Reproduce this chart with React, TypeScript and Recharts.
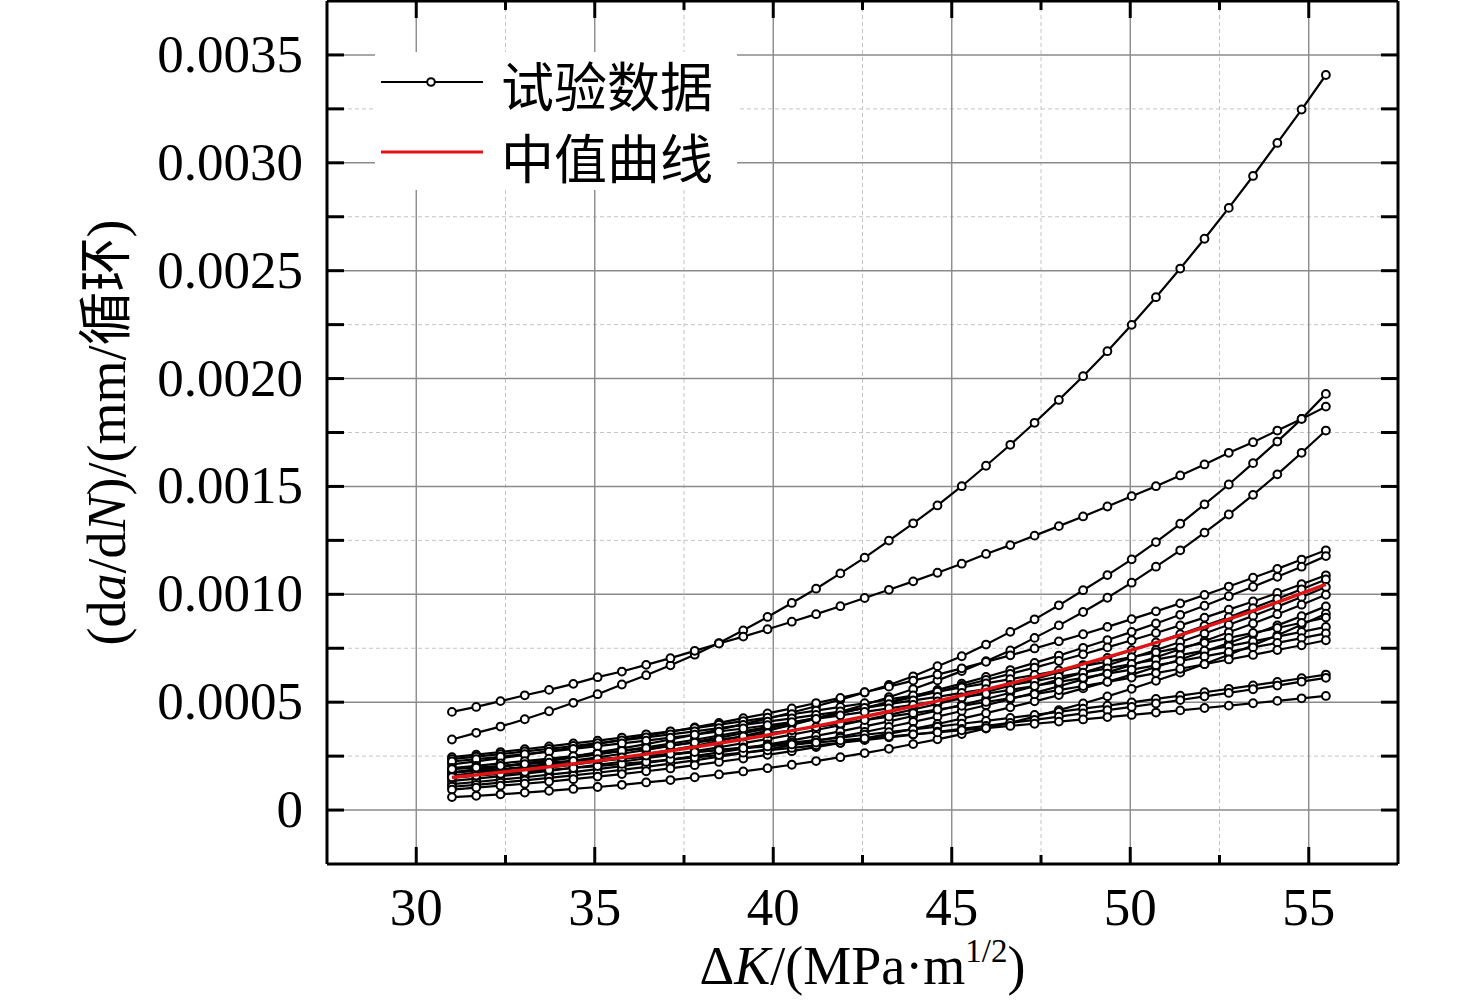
import React from 'react';
import { CartesianGrid, Legend, Line, LineChart, XAxis, YAxis } from 'recharts';

// Times-like serif for numbers, CJK falls back to Noto Sans CJK.
const SERIF = '"Liberation Serif", "Times New Roman", "Noto Sans CJK SC", serif';
const CJK = '"Noto Sans CJK SC", "Noto Sans CJK JP", sans-serif';
const RED = '#e01414';
const GRID_MAJOR = '#8a8a8a';
const GRID_MINOR = '#c4c4c4';

// ΔK at each measured point (MPa·m^1/2)
const DK = [
  31.0, 31.68, 32.36, 33.04, 33.72, 34.4, 35.08, 35.76, 36.44, 37.12, 37.8, 38.48, 39.16,
  39.84, 40.52, 41.2, 41.88, 42.56, 43.24, 43.92, 44.6, 45.28, 45.96, 46.64, 47.32, 48.0,
  48.68, 49.36, 50.04, 50.72, 51.4, 52.08, 52.76, 53.44, 54.12, 54.8, 55.48,
];

// da/dN per specimen, in 1e-4 mm/cycle
const S01 = [3.27, 3.58, 3.87, 4.21, 4.58, 4.97, 5.37, 5.82, 6.25, 6.71, 7.2, 7.74, 8.33, 8.95, 9.6, 10.26, 10.97, 11.7, 12.49, 13.29, 14.12, 15.01, 15.96, 16.93, 17.95, 19.01, 20.11, 21.27, 22.49, 23.77, 25.1, 26.48, 27.91, 29.39, 30.92, 32.47, 34.07];
const S02 = [4.55, 4.78, 5.05, 5.32, 5.57, 5.85, 6.16, 6.42, 6.73, 7.04, 7.38, 7.72, 8.04, 8.38, 8.73, 9.08, 9.45, 9.83, 10.21, 10.6, 11.0, 11.42, 11.87, 12.28, 12.72, 13.16, 13.61, 14.07, 14.55, 15.01, 15.51, 16.02, 16.56, 17.05, 17.59, 18.13, 18.7];
const S03 = [1.74, 1.87, 2.01, 2.16, 2.32, 2.49, 2.67, 2.86, 3.06, 3.27, 3.49, 3.73, 3.98, 4.24, 4.52, 4.81, 5.12, 5.45, 5.8, 6.2, 6.67, 7.13, 7.67, 8.26, 8.84, 9.49, 10.19, 10.89, 11.62, 12.42, 13.27, 14.17, 15.09, 16.08, 17.08, 18.13, 19.29];
const S04 = [1.5, 1.61, 1.72, 1.84, 1.97, 2.11, 2.26, 2.42, 2.59, 2.78, 2.98, 3.2, 3.43, 3.68, 3.95, 4.24, 4.55, 4.88, 5.23, 5.61, 6.01, 6.44, 6.9, 7.4, 7.98, 8.56, 9.18, 9.84, 10.54, 11.28, 12.04, 12.86, 13.7, 14.61, 15.56, 16.56, 17.59];
const S05 = [2.12, 2.26, 2.41, 2.56, 2.73, 2.89, 3.07, 3.25, 3.44, 3.63, 3.83, 4.04, 4.26, 4.48, 4.71, 4.96, 5.2, 5.46, 5.72, 6.0, 6.28, 6.57, 6.87, 7.17, 7.49, 7.82, 8.15, 8.49, 8.85, 9.21, 9.58, 9.97, 10.36, 10.77, 11.18, 11.61, 12.04];
const S06 = [1.6, 1.72, 1.85, 1.99, 2.14, 2.29, 2.44, 2.61, 2.79, 2.97, 3.16, 3.36, 3.56, 3.78, 4.01, 4.24, 4.49, 4.74, 5.01, 5.28, 5.57, 5.86, 6.17, 6.49, 6.82, 7.16, 7.52, 7.88, 8.26, 8.65, 9.05, 9.47, 9.91, 10.35, 10.81, 11.28, 11.77];
const S07 = [1.75, 1.87, 2.0, 2.14, 2.28, 2.43, 2.58, 2.74, 2.91, 3.08, 3.26, 3.45, 3.65, 3.85, 4.06, 4.28, 4.5, 4.73, 4.98, 5.23, 5.48, 5.75, 6.03, 6.31, 6.6, 6.91, 7.22, 7.54, 7.87, 8.21, 8.56, 8.92, 9.29, 9.67, 10.06, 10.47, 10.88];
const S08 = [1.35, 1.46, 1.57, 1.69, 1.82, 1.96, 2.1, 2.24, 2.4, 2.56, 2.73, 2.91, 3.1, 3.29, 3.5, 3.71, 3.93, 4.17, 4.41, 4.66, 4.92, 5.19, 5.47, 5.77, 6.07, 6.39, 6.72, 7.05, 7.41, 7.77, 8.15, 8.54, 8.94, 9.36, 9.79, 10.23, 10.69];
const S09 = [1.2, 1.3, 1.41, 1.52, 1.64, 1.76, 1.9, 2.04, 2.18, 2.34, 2.5, 2.67, 2.85, 3.04, 3.23, 3.44, 3.65, 3.88, 4.11, 4.36, 4.61, 4.88, 5.15, 5.44, 5.74, 6.05, 6.37, 6.71, 7.06, 7.42, 7.79, 8.18, 8.59, 9.0, 9.43, 9.88, 10.34];
const S10 = [1.08, 1.17, 1.27, 1.38, 1.49, 1.61, 1.73, 1.86, 2.0, 2.15, 2.3, 2.47, 2.64, 2.82, 3.0, 3.2, 3.41, 3.62, 3.85, 4.09, 4.33, 4.59, 4.86, 5.14, 5.43, 5.74, 6.06, 6.38, 6.73, 7.08, 7.45, 7.84, 8.24, 8.65, 9.08, 9.52, 9.98];
const S11 = [0.95, 1.04, 1.13, 1.22, 1.32, 1.43, 1.55, 1.67, 1.8, 1.93, 2.08, 2.23, 2.39, 2.56, 2.73, 2.92, 3.11, 3.32, 3.53, 3.76, 3.99, 4.24, 4.49, 4.76, 5.04, 5.33, 5.64, 5.95, 6.28, 6.63, 6.98, 7.36, 7.74, 8.14, 8.56, 8.99, 9.44];
const S12 = [0.6, 0.66, 0.73, 0.81, 0.89, 0.98, 1.07, 1.17, 1.28, 1.39, 1.52, 1.65, 1.79, 1.94, 2.1, 2.27, 2.45, 2.64, 2.84, 3.06, 3.28, 3.52, 3.78, 4.05, 4.33, 4.63, 4.94, 5.27, 5.62, 5.99, 6.37, 6.77, 7.2, 7.64, 8.1, 8.59, 9.1];
const S13 = [2.45, 2.57, 2.69, 2.82, 2.95, 3.09, 3.22, 3.36, 3.51, 3.65, 3.8, 3.96, 4.12, 4.28, 4.44, 4.61, 4.78, 4.95, 5.13, 5.31, 5.49, 5.68, 5.87, 6.07, 6.26, 6.47, 6.67, 6.88, 7.09, 7.31, 7.53, 7.75, 7.98, 8.21, 8.44, 8.68, 8.92];
const S14 = [2.36, 2.48, 2.59, 2.72, 2.84, 2.97, 3.1, 3.23, 3.37, 3.51, 3.65, 3.8, 3.95, 4.1, 4.25, 4.41, 4.57, 4.74, 4.91, 5.08, 5.25, 5.43, 5.61, 5.8, 5.98, 6.18, 6.37, 6.57, 6.77, 6.97, 7.18, 7.39, 7.6, 7.82, 8.04, 8.26, 8.49];
const S15 = [2.25, 2.36, 2.47, 2.59, 2.71, 2.84, 2.96, 3.09, 3.22, 3.36, 3.49, 3.64, 3.78, 3.93, 4.08, 4.23, 4.39, 4.55, 4.71, 4.88, 5.04, 5.22, 5.39, 5.57, 5.75, 5.94, 6.13, 6.32, 6.51, 6.71, 6.91, 7.12, 7.33, 7.54, 7.75, 7.97, 8.19];
const S16 = [1.95, 2.05, 2.16, 2.27, 2.38, 2.5, 2.62, 2.74, 2.87, 3.0, 3.13, 3.27, 3.41, 3.56, 3.7, 3.85, 4.01, 4.17, 4.33, 4.49, 4.66, 4.83, 5.01, 5.19, 5.37, 5.56, 5.75, 5.94, 6.14, 6.35, 6.55, 6.76, 6.98, 7.19, 7.42, 7.64, 7.87];
const S17 = [1.73, 1.81, 1.9, 1.99, 2.08, 2.17, 2.27, 2.37, 2.47, 2.57, 2.68, 2.79, 2.9, 3.01, 3.13, 3.24, 3.36, 3.49, 3.61, 3.74, 3.87, 4.0, 4.13, 4.27, 4.41, 4.55, 4.7, 4.84, 4.99, 5.15, 5.3, 5.46, 5.62, 5.78, 5.94, 6.11, 6.28];
const S18 = [1.52, 1.6, 1.68, 1.77, 1.86, 1.95, 2.04, 2.14, 2.23, 2.34, 2.44, 2.55, 2.66, 2.77, 2.88, 3.0, 3.12, 3.24, 3.37, 3.5, 3.63, 3.76, 3.9, 4.04, 4.18, 4.33, 4.48, 4.63, 4.78, 4.94, 5.1, 5.27, 5.43, 5.6, 5.77, 5.95, 6.13];
const S19 = [1.9, 1.97, 2.05, 2.13, 2.2, 2.28, 2.36, 2.44, 2.53, 2.61, 2.69, 2.78, 2.87, 2.95, 3.04, 3.13, 3.23, 3.32, 3.41, 3.51, 3.6, 3.7, 3.8, 3.9, 4.0, 4.1, 4.2, 4.31, 4.41, 4.52, 4.62, 4.73, 4.84, 4.95, 5.06, 5.18, 5.29];

// median curve (1e-4 mm/cycle)
const MEDIAN_DK = [31.0, 33.04, 35.08, 37.12, 39.16, 41.2, 43.24, 45.28, 47.32, 49.36, 51.4, 53.44, 55.48];
const MEDIAN = [1.51, 1.87, 2.28, 2.75, 3.28, 3.89, 4.57, 5.32, 6.16, 7.09, 8.11, 9.23, 10.46];

const X_MAJOR = [30, 35, 40, 45, 50, 55];
const X_MINOR = [32.5, 37.5, 42.5, 47.5, 52.5];
const Y_MAJOR = [0, 0.0005, 0.001, 0.0015, 0.002, 0.0025, 0.003, 0.0035];
const Y_LABELS = ['0', '0.0005', '0.0010', '0.0015', '0.0020', '0.0025', '0.0030', '0.0035'];
const Y_MINOR = [0.00025, 0.00075, 0.00125, 0.00175, 0.00225, 0.00275, 0.00325];

const X_TICKS = [...X_MAJOR, ...X_MINOR].sort((a, b) => a - b);
const Y_TICKS = [...Y_MAJOR, ...Y_MINOR].sort((a, b) => a - b);

const SPECIMENS = [S01, S02, S03, S04, S05, S06, S07, S08, S09, S10, S11, S12, S13, S14, S15, S16, S17, S18, S19];

const rows = DK.map((dk, i) => {
  const row: Record<string, number> = { dk };
  SPECIMENS.forEach((s, k) => {
    row[`s${k}`] = s[i] * 1e-4;
  });
  return row;
});
const medianRows = MEDIAN_DK.map((dk, i) => ({ dk, v: MEDIAN[i] * 1e-4 }));

const AXIS_LINE = { stroke: '#000', strokeWidth: 3 };

type TickProps = { x?: number; y?: number; payload?: { value: number } };

function BottomTick({ x = 0, y = 0, payload }: TickProps) {
  const v = payload?.value ?? 0;
  const major = X_MAJOR.includes(v);
  return (
    <g>
      <line x1={x} y1={y} x2={x} y2={y - (major ? 17 : 9)} stroke="#000" strokeWidth={3} />
      {major && (
        <text x={x} y={y + 61} textAnchor="middle" fontFamily={SERIF} fontSize={53} fill="#000">
          {v}
        </text>
      )}
    </g>
  );
}

function TopTick({ x = 0, y = 0, payload }: TickProps) {
  const major = X_MAJOR.includes(payload?.value ?? 0);
  return <line x1={x} y1={y} x2={x} y2={y + (major ? 17 : 9)} stroke="#000" strokeWidth={3} />;
}

function LeftTick({ x = 0, y = 0, payload }: TickProps) {
  const v = payload?.value ?? 0;
  const idx = Y_MAJOR.indexOf(v);
  return (
    <g>
      <line x1={x} y1={y} x2={x + 17} y2={y} stroke="#000" strokeWidth={3} />
      {idx >= 0 && (
        <text x={x - 24} y={y + 17} textAnchor="end" fontFamily={SERIF} fontSize={53} fill="#000">
          {Y_LABELS[idx]}
        </text>
      )}
    </g>
  );
}

function RightTick({ x = 0, y = 0 }: TickProps) {
  return <line x1={x} y1={y} x2={x - 17} y2={y} stroke="#000" strokeWidth={3} />;
}

function XTitle(props: any) {
  const vb = props.viewBox ?? { x: 327, y: 864, width: 1071, height: 140 };
  return (
    <text x={vb.x + vb.width / 2} y={vb.y + 120} textAnchor="middle" fontFamily={SERIF} fontSize={54} fill="#000">
      Δ<tspan fontStyle="italic">K</tspan>/(MPa·m
      <tspan fontSize={33} dy={-22}>1/2</tspan>
      <tspan dy={22}>)</tspan>
    </text>
  );
}

function YTitle(props: any) {
  const vb = props.viewBox ?? { x: 0, y: 1, width: 327, height: 863 };
  const cx = vb.x + 107;
  const cy = vb.y + vb.height / 2;
  return (
    <text
      transform={`translate(${cx},${cy}) rotate(-90)`}
      textAnchor="middle"
      dominantBaseline="central"
      fontFamily={SERIF}
      fontSize={54}
      fill="#000"
    >
      (d<tspan fontStyle="italic">a</tspan>/d<tspan fontStyle="italic">N</tspan>)/(mm/循环)
    </text>
  );
}

function LegendBox() {
  return (
    <div style={{ width: 362, height: 138, background: '#fff', overflow: 'visible' }}>
      <svg width={362} height={138} style={{ display: 'block', overflow: 'visible' }}>
        <line x1={6} y1={30} x2={108} y2={30} stroke="#000" strokeWidth={2} />
        <circle cx={56} cy={30} r={3.8} fill="#fff" stroke="#000" strokeWidth={2} />
        <line x1={6} y1={100} x2={108} y2={100} stroke={RED} strokeWidth={3} />
        <text x={126} y={32} dominantBaseline="central" fontFamily={CJK} fontSize={53} fill="#000">
          试验数据
        </text>
        <text x={126} y={104} dominantBaseline="central" fontFamily={CJK} fontSize={53} fill="#000">
          中值曲线
        </text>
      </svg>
    </div>
  );
}

export default function App() {
  return (
    <div style={{ position: 'absolute', left: 0, top: 0, width: 1476, height: 1004, background: '#fff' }}>
      <LineChart width={1476} height={1004} data={rows} margin={{ top: 0, right: 77, bottom: 0, left: 0 }}>
        <CartesianGrid
          xAxisId="b"
          yAxisId="l"
          verticalValues={X_MINOR}
          horizontalValues={Y_MINOR}
          stroke={GRID_MINOR}
          strokeDasharray="4 3"
          strokeWidth={1}
        />
        <CartesianGrid
          xAxisId="b"
          yAxisId="l"
          verticalValues={X_MAJOR}
          horizontalValues={Y_MAJOR}
          stroke={GRID_MAJOR}
          strokeWidth={1.4}
        />
        <XAxis
          xAxisId="b"
          dataKey="dk"
          type="number"
          domain={[27.5, 57.5]}
          allowDataOverflow
          ticks={X_TICKS}
          interval={0}
          height={140}
          tickSize={0}
          tickMargin={0}
          tickLine={false}
          axisLine={AXIS_LINE}
          tick={(p: any) => <BottomTick {...p} />}
          label={(p: any) => <XTitle {...p} />}
        />
        <XAxis
          xAxisId="t"
          orientation="top"
          dataKey="dk"
          type="number"
          domain={[27.5, 57.5]}
          allowDataOverflow
          ticks={X_TICKS}
          interval={0}
          height={1}
          tickSize={0}
          tickMargin={0}
          tickLine={false}
          axisLine={AXIS_LINE}
          tick={(p: any) => <TopTick {...p} />}
        />
        <YAxis
          yAxisId="l"
          type="number"
          domain={[-0.00025, 0.00375]}
          allowDataOverflow
          ticks={Y_TICKS}
          interval={0}
          width={327}
          tickSize={0}
          tickMargin={0}
          tickLine={false}
          axisLine={AXIS_LINE}
          tick={(p: any) => <LeftTick {...p} />}
          label={(p: any) => <YTitle {...p} />}
        />
        <YAxis
          yAxisId="r"
          orientation="right"
          type="number"
          domain={[-0.00025, 0.00375]}
          allowDataOverflow
          ticks={Y_TICKS}
          interval={0}
          width={1}
          tickSize={0}
          tickMargin={0}
          tickLine={false}
          axisLine={AXIS_LINE}
          tick={(p: any) => <RightTick {...p} />}
        />
        <Legend
          layout="horizontal"
          verticalAlign="middle"
          align="center"
          wrapperStyle={{ left: 375, top: 52, width: 362, height: 138 }}
          content={() => <LegendBox />}
        />
        {SPECIMENS.map((_, k) => (
          <Line
            key={k}
            xAxisId="b"
            yAxisId="l"
            type="linear"
            dataKey={`s${k}`}
            stroke="#000"
            strokeWidth={2.2}
            dot={{ r: 3.9, fill: '#fff', stroke: '#000', strokeWidth: 2 }}
            activeDot={false}
            isAnimationActive={false}
          />
        ))}
        <Line
          xAxisId="b"
          yAxisId="l"
          data={medianRows}
          dataKey="v"
          type="monotone"
          stroke={RED}
          strokeWidth={3.4}
          dot={false}
          activeDot={false}
          isAnimationActive={false}
          {...({ zIndex: 2000 } as any)}
        />
      </LineChart>
    </div>
  );
}
